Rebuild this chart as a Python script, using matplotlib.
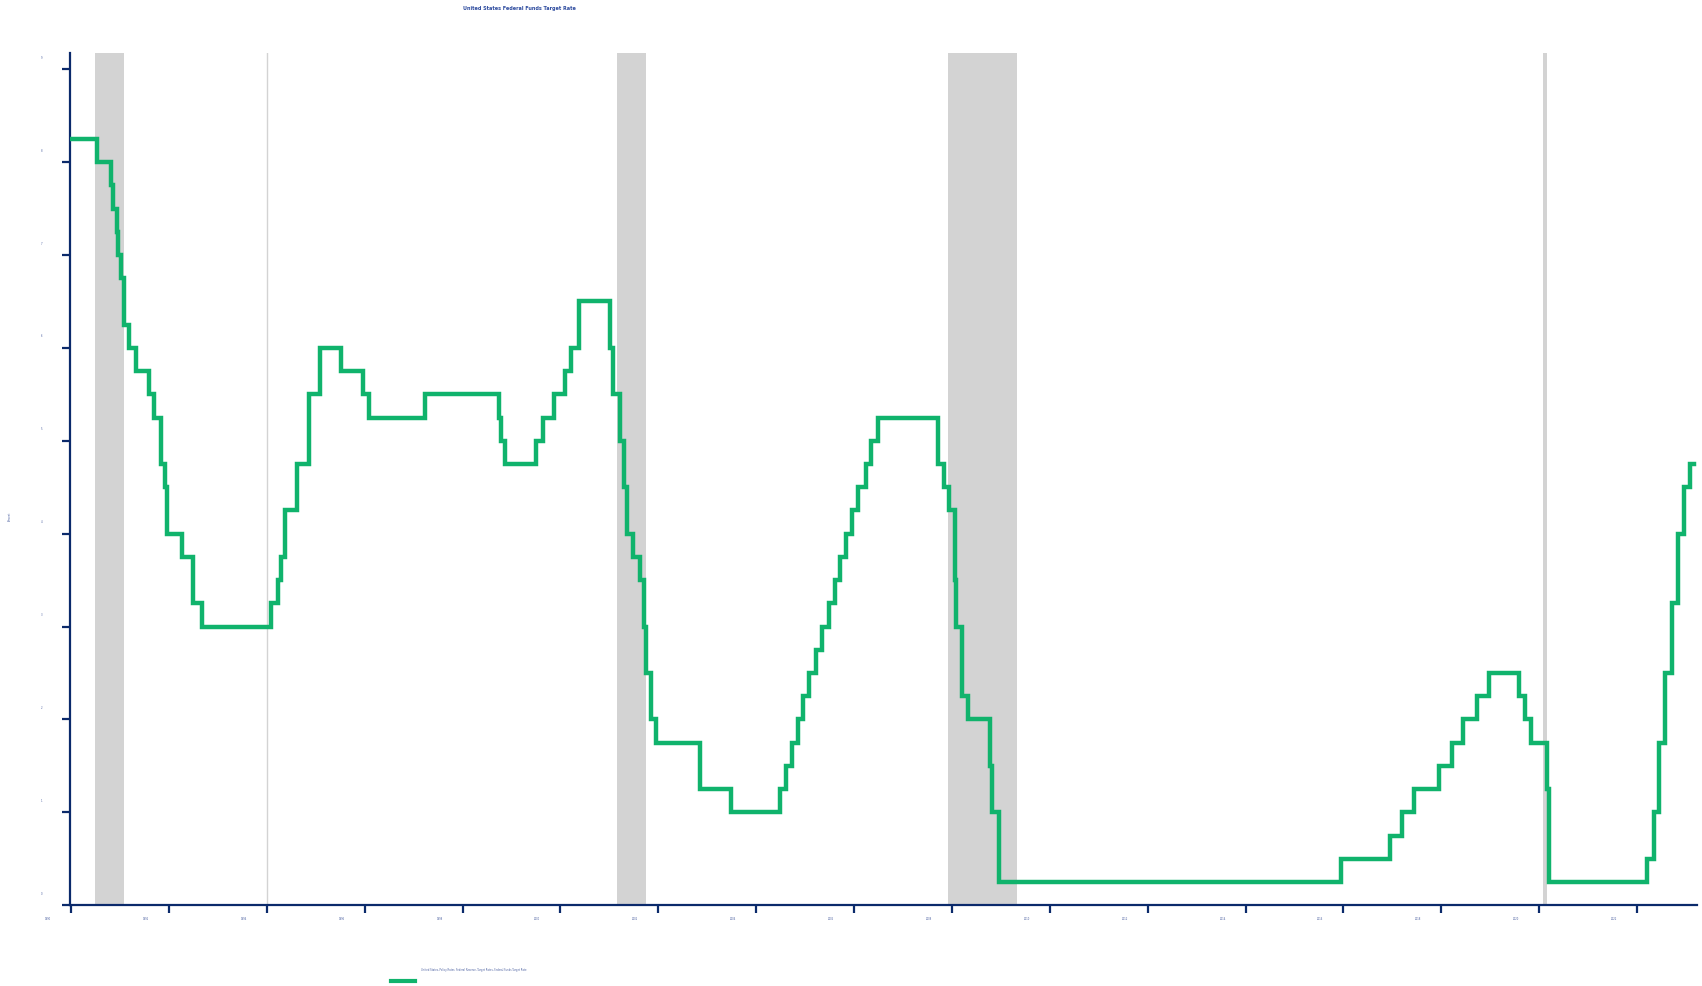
import matplotlib
matplotlib.use("Agg")
import matplotlib.pyplot as plt
import matplotlib.transforms as mtrans
from matplotlib.lines import Line2D
import pandas as pd

# target rate changes (upper bound), step series
change_dates = [
    "1990-01-01", "1990-07-13", "1990-10-29", "1990-11-13", "1990-12-07", "1990-12-18",
    "1991-01-09", "1991-02-01", "1991-03-08", "1991-04-30", "1991-08-06", "1991-09-13",
    "1991-10-31", "1991-11-06", "1991-12-06", "1991-12-20", "1992-04-09", "1992-07-02",
    "1992-09-04", "1994-02-04", "1994-03-22", "1994-04-18", "1994-05-17", "1994-08-16",
    "1994-11-15", "1995-02-01", "1995-07-06", "1995-12-19", "1996-01-31", "1997-03-25",
    "1998-09-29", "1998-10-15", "1998-11-17", "1999-06-30", "1999-08-24", "1999-11-16",
    "2000-02-02", "2000-03-21", "2000-05-16", "2001-01-03", "2001-01-31", "2001-03-20",
    "2001-04-18", "2001-05-15", "2001-06-27", "2001-08-21", "2001-09-17", "2001-10-02",
    "2001-11-06", "2001-12-11", "2002-11-06", "2003-06-25", "2004-06-30", "2004-08-10",
    "2004-09-21", "2004-11-10", "2004-12-14", "2005-02-02", "2005-03-22", "2005-05-03",
    "2005-06-30", "2005-08-09", "2005-09-20", "2005-11-01", "2005-12-13", "2006-01-31",
    "2006-03-28", "2006-05-10", "2006-06-29", "2007-09-18", "2007-10-31", "2007-12-11",
    "2008-01-22", "2008-01-30", "2008-03-18", "2008-04-30", "2008-10-08", "2008-10-29",
    "2008-12-16", "2015-12-16", "2016-12-14", "2017-03-15", "2017-06-14", "2017-12-13",
    "2018-03-21", "2018-06-13", "2018-09-26", "2018-12-19", "2019-07-31", "2019-09-18",
    "2019-10-30", "2020-03-03", "2020-03-15", "2022-03-16", "2022-05-04", "2022-06-15",
    "2022-07-27", "2022-09-21", "2022-11-02", "2022-12-14", "2023-02-01", "2023-02-28",
]
target_rate = [
    8.25, 8.00, 7.75, 7.50, 7.25, 7.00,
    6.75, 6.25, 6.00, 5.75, 5.50, 5.25,
    5.00, 4.75, 4.50, 4.00, 3.75, 3.25,
    3.00, 3.25, 3.50, 3.75, 4.25, 4.75,
    5.50, 6.00, 5.75, 5.50, 5.25, 5.50,
    5.25, 5.00, 4.75, 5.00, 5.25, 5.50,
    5.75, 6.00, 6.50, 6.00, 5.50, 5.00,
    4.50, 4.00, 3.75, 3.50, 3.00, 2.50,
    2.00, 1.75, 1.25, 1.00, 1.25, 1.50,
    1.75, 2.00, 2.25, 2.50, 2.75, 3.00,
    3.25, 3.50, 3.75, 4.00, 4.25, 4.50,
    4.75, 5.00, 5.25, 4.75, 4.50, 4.25,
    3.50, 3.00, 2.25, 2.00, 1.50, 1.00,
    0.25, 0.50, 0.75, 1.00, 1.25, 1.50,
    1.75, 2.00, 2.25, 2.50, 2.25, 2.00,
    1.75, 1.25, 0.25, 0.50, 1.00, 1.75,
    2.50, 3.25, 4.00, 4.50, 4.75, 4.75,
]

recession_start = ["1990-07-01", "2001-03-01", "2007-12-01", "2020-02-01"]
recession_end = ["1991-02-01", "2001-10-01", "2009-05-01", "2020-03-01"]

year_ticks = list(range(1990, 2023, 2))
rate_ticks = list(range(0, 10))

navy = "#0b2a6b"
label_col = "#4a5fa0"
green = "#10b36c"

fig = plt.figure(figsize=(17.02, 9.87), dpi=100)
ax = fig.add_axes([0.0411, 0.0819, 0.9559, 0.8629])

for s, e in zip(recession_start, recession_end):
    ax.axvspan(pd.Timestamp(s), pd.Timestamp(e), color="#d3d3d3", lw=0, zorder=0)
ax.axvline(pd.Timestamp("1994-01-01"), color="#d3d3d3", lw=1, zorder=0)

ax.step(pd.to_datetime(change_dates), target_rate, where="post", color=green, lw=3.2,
        solid_joinstyle="miter", zorder=3)

ax.set_xlim(pd.Timestamp("1989-12-24"), pd.Timestamp("2023-03-23"))
ax.set_ylim(0, 9.17)

ax.set_xticks([pd.Timestamp(f"{y}-01-01") for y in year_ticks])
ax.set_xticklabels([str(y) for y in year_ticks])
ax.set_yticks(rate_ticks)
ax.set_yticklabels([str(v) for v in rate_ticks])

for sp in ["top", "right"]:
    ax.spines[sp].set_visible(False)
for sp in ["left", "bottom"]:
    ax.spines[sp].set_color(navy)
    ax.spines[sp].set_linewidth(1.6)

ax.tick_params(axis="both", direction="out", length=6, width=1.6, color=navy,
               labelsize=1.8, labelcolor=label_col)
ax.tick_params(axis="y", pad=14)
ax.tick_params(axis="x", pad=2)

# labels sit offset from their ticks in the original
dx = mtrans.ScaledTranslation(-0.23, 0, fig.dpi_scale_trans)
for lab in ax.get_xticklabels():
    lab.set_transform(lab.get_transform() + dx)
dy = mtrans.ScaledTranslation(0, 0.13, fig.dpi_scale_trans)
for lab in ax.get_yticklabels():
    lab.set_transform(lab.get_transform() + dy)

fig.text(0.0058, 0.477, "Percent", rotation=90, fontsize=1.8, color=label_col,
         ha="center", va="center")
fig.text(0.305, 0.991, "United States Federal Funds Target Rate", fontsize=3.5,
         fontweight="bold", color="#2c4a9e", ha="center", va="center")

# legend
fig.add_artist(Line2D([0.2297, 0.2438], [0.0051, 0.0051], color=green, lw=3,
                      transform=fig.transFigure))
fig.text(0.2474, 0.0172,
         "United States, Policy Rates, Federal Reserve, Target Rates, Federal Funds Target Rate",
         fontsize=1.8, color=label_col, ha="left", va="center")

fig.savefig("out.png", dpi=100)
